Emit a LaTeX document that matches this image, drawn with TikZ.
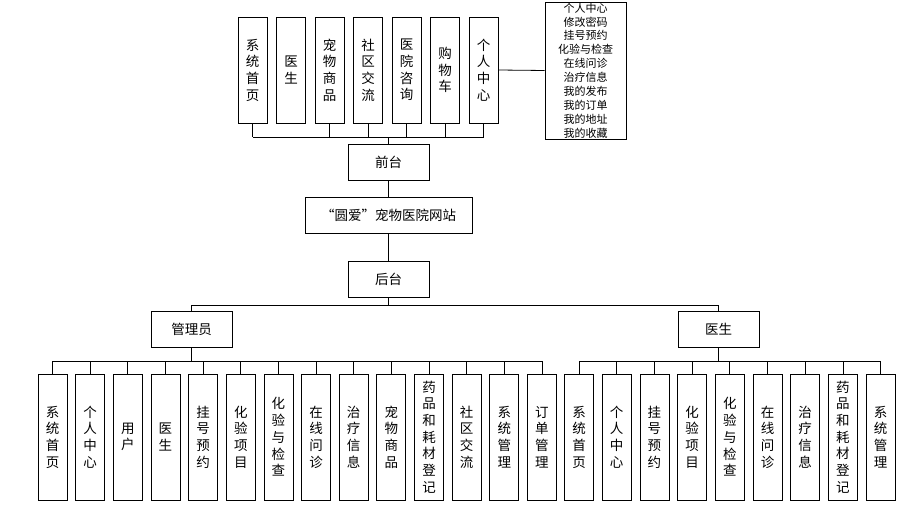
\documentclass[tikz,border=0pt]{standalone}
\usepackage{fontspec}
\setmainfont{Noto Sans CJK SC}
\begin{document}
\begin{tikzpicture}[x=1pt,y=-1pt,
  line/.style={draw=black,line width=0.8pt},
  vbox/.style={draw=black,line width=0.8pt,minimum width=29pt,inner sep=0pt,
    align=center,font=\fontsize{13.5}{16.7}\selectfont},
  hbox/.style={draw=black,line width=0.8pt,minimum width=81pt,minimum height=36pt,inner sep=0pt,
    font=\fontsize{13.5}{16}\selectfont},
  listbox/.style={draw=black,line width=0.8pt,minimum width=81pt,minimum height=137pt,inner sep=0pt,
    align=center,font=\fontsize{11}{13.9}\selectfont}
]
\useasboundingbox (0,0) rectangle (902,505);
% top boxes
\foreach \i/\t [count=\k from 0] in {a/系\\统\\首\\页, b/医\\生, c/宠\\物\\商\\品, d/社\\区\\交\\流, e/医\\院\\咨\\询, f/购\\物\\车, g/个\\人\\中\\心}{
  \node[vbox,minimum height=106pt] (t\i) at (252.5+38.5*\k,70) {\t};
}
\node[listbox] (plist) at (585.5,70.5) {个人中心\\修改密码\\挂号预约\\化验与检查\\在线问诊\\治疗信息\\我的发布\\我的订单\\我的地址\\我的收藏};
\draw[line] (tg.east) -- (plist.west);
\node[hbox] (qt) at (388.5,162) {前台};
\node[hbox,minimum width=167pt] (site) at (388.5,215) {“圆爱”宠物医院网站};
\node[hbox] (ht) at (388.5,279) {后台};
\coordinate (tb) at (0,137);
\foreach \i in {a,b,c,d,e,f,g}{ \draw[line] (t\i.south) -- (t\i.south |- tb); }
\draw[line] (ta.south |- tb) -- (tg.south |- tb);
\draw[line] (qt.north) -- (qt.north |- tb);
\draw[line] (qt.south) -- (site.north);
\draw[line] (site.south) -- (ht.north);
% second level
\node[hbox] (adm) at (191.5,329) {管理员};
\node[hbox] (doc) at (718.5,329) {医生};
\coordinate (mb) at (0,305);
\draw[line] (ht.south) -- (ht.south |- mb);
\draw[line] (adm.north) -- (adm.north |- mb) -- (doc.north |- mb) -- (doc.north);
% bottom boxes
\coordinate (bb) at (0,361);
\foreach \t [count=\k from 0] in {系\\统\\首\\页, 个\\人\\中\\心, 用\\户, 医\\生, 挂\\号\\预\\约, 化\\验\\项\\目, 化\\验\\与\\检\\查, 在\\线\\问\\诊, 治\\疗\\信\\息, 宠\\物\\商\\品, 药\\品\\和\\耗\\材\\登\\记, 社\\区\\交\\流, 系\\统\\管\\理, 订\\单\\管\\理}{
  \node[vbox,minimum height=126pt] (l\k) at (52.5+37.65*\k,437) {\t};
  \draw[line] (l\k.north) -- (l\k.north |- bb);
}
\draw[line] (l0.north |- bb) -- (l13.north |- bb);
\draw[line] (adm.south) -- (adm.south |- bb);
\foreach \t [count=\k from 0] in {系\\统\\首\\页, 个\\人\\中\\心, 挂\\号\\预\\约, 化\\验\\项\\目, 化\\验\\与\\检\\查, 在\\线\\问\\诊, 治\\疗\\信\\息, 药\\品\\和\\耗\\材\\登\\记, 系\\统\\管\\理}{
  \node[vbox,minimum height=126pt] (r\k) at (579+37.7*\k,437) {\t};
  \draw[line] (r\k.north) -- (r\k.north |- bb);
}
\draw[line] (r0.north |- bb) -- (r8.north |- bb);
\draw[line] (doc.south) -- (doc.south |- bb);
\end{tikzpicture}
\end{document}
